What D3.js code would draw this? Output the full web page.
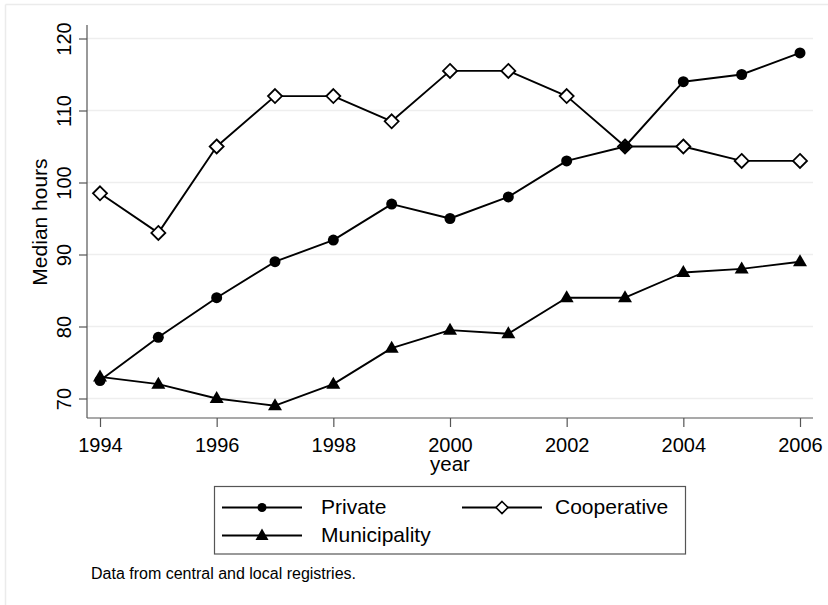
<!DOCTYPE html>
<html>
<head>
<meta charset="utf-8">
<script src="https://cdn.jsdelivr.net/npm/d3@7"></script>
<style>
  html, body { margin: 0; padding: 0; background: #fff; }
  svg { display: block; font-family: "Liberation Sans", Arial, sans-serif; }
</style>
</head>
<body>
<svg id="chart" width="828" height="605"></svg>
<script>
// Median hours by ownership type, 1994–2006
const years = [1994, 1995, 1996, 1997, 1998, 1999, 2000, 2001, 2002, 2003, 2004, 2005, 2006];
const privateHours      = [72.5, 78.5, 84, 89, 92, 97, 95, 98, 103, 105, 114, 115, 118];
const cooperativeHours  = [98.5, 93, 105, 112, 112, 108.5, 115.5, 115.5, 112, 105, 105, 103, 103];
const municipalHours    = [73, 72, 70, 69, 72, 77, 79.5, 79, 84, 84, 87.5, 88, 89];
const xTickValues = [1994, 1996, 1998, 2000, 2002, 2004, 2006];
const yTickValues = [70, 80, 90, 100, 110, 120];
const seriesNames = ["Private", "Cooperative", "Municipality"];
const seriesSymbols = ["circle", "diamond", "triangle"];
const noteText = "Data from central and local registries.";

const svg = d3.select("#chart");
const FONT = "'Liberation Sans', Arial, sans-serif";

// outer graph-region frame (left and top edges visible)
svg.append("line").attr("x1", 5.5).attr("x2", 5.5).attr("y1", 4.5).attr("y2", 605)
  .attr("stroke", "#ebebeb").attr("stroke-width", 1.5);
svg.append("line").attr("x1", 5.5).attr("x2", 828).attr("y1", 4.5).attr("y2", 4.5)
  .attr("stroke", "#ebebeb").attr("stroke-width", 1.5);

const plot = { left: 87, right: 813, top: 25, bottom: 418 };

const x = d3.scaleLinear().domain([1994, 2006]).range([100, 800]);
const y = d3.scaleLinear().domain([70, 120]).range([398.5, 38.5]);

// horizontal grid
svg.append("g").selectAll("line").data(yTickValues).join("line")
  .attr("x1", plot.left).attr("x2", plot.right)
  .attr("y1", d => y(d)).attr("y2", d => y(d))
  .attr("stroke", "#eeeeee").attr("stroke-width", 1.6);

// y axis
const yAxis = svg.append("g").attr("transform", `translate(${plot.left},0)`)
  .call(d3.axisLeft(y).tickValues(yTickValues).tickSize(8).tickPadding(0).tickFormat(d3.format("d")));
yAxis.select(".domain").attr("d", `M0,${plot.top}V${plot.bottom}`).attr("stroke", "#555").attr("stroke-width", 1.2);
yAxis.selectAll(".tick line").attr("stroke", "#555").attr("stroke-width", 1.2);
yAxis.selectAll(".tick text")
  .attr("x", null).attr("dy", null)
  .attr("transform", "translate(-16,0) rotate(-90)")
  .attr("text-anchor", "middle")
  .attr("font-size", 20).attr("fill", "#000")
  .attr("font-family", FONT);

// x axis
const xAxis = svg.append("g").attr("transform", `translate(0,${plot.bottom})`)
  .call(d3.axisBottom(x).tickValues(xTickValues).tickSize(9).tickPadding(0).tickFormat(d3.format("d")));
xAxis.select(".domain").attr("d", `M${plot.left},0H${plot.right}`).attr("stroke", "#555").attr("stroke-width", 1.2);
xAxis.selectAll(".tick line").attr("stroke", "#555").attr("stroke-width", 1.2);
xAxis.selectAll(".tick text")
  .attr("y", 34).attr("dy", null)
  .attr("font-size", 20).attr("fill", "#000")
  .attr("font-family", FONT);

// axis titles
svg.append("text").attr("transform", `translate(47,222) rotate(-90)`)
  .attr("text-anchor", "middle").attr("font-size", 21).text("Median hours");
svg.append("text").attr("x", 450).attr("y", 470.5)
  .attr("text-anchor", "middle").attr("font-size", 20.5).text("year");

// marker shapes
function drawMarker(g, kind, cx, cy) {
  if (kind === "circle") {
    g.append("circle").attr("cx", cx).attr("cy", cy).attr("r", 5.5).attr("fill", "#000");
  } else if (kind === "diamond") {
    const r = 7;
    g.append("path").attr("d", `M${cx},${cy - r}L${cx + r},${cy}L${cx},${cy + r}L${cx - r},${cy}Z`)
      .attr("fill", "#fff").attr("stroke", "#000").attr("stroke-width", 1.8);
  } else {
    const h = 12, w = 14;
    g.append("path").attr("d", `M${cx},${cy - h * 0.62}L${cx + w / 2},${cy + h * 0.38}L${cx - w / 2},${cy + h * 0.38}Z`)
      .attr("fill", "#000");
  }
}

const seriesValues = [privateHours, cooperativeHours, municipalHours];
const line = d3.line().x(d => x(d[0])).y(d => y(d[1]));

// Cooperative first so the solid Private markers sit on top where they coincide
[1, 0, 2].forEach(i => {
  const vals = seriesValues[i];
  const pts = years.map((yr, j) => [yr, vals[j]]);
  const g = svg.append("g");
  g.append("path").attr("d", line(pts)).attr("fill", "none")
    .attr("stroke", "#000").attr("stroke-width", 1.9).attr("stroke-linejoin", "round");
  pts.forEach(p => drawMarker(g, seriesSymbols[i], x(p[0]), y(p[1])));
});

// legend
const legend = svg.append("g");
legend.append("rect").attr("x", 214.5).attr("y", 486.5).attr("width", 471).attr("height", 67.5)
  .attr("fill", "#fff").attr("stroke", "#555").attr("stroke-width", 1.2);
const legendPos = [
  { lx: 222, ly: 507.5, tx: 321 },
  { lx: 462, ly: 507.5, tx: 555 },
  { lx: 222, ly: 535.5, tx: 321 }
];
seriesNames.forEach((name, i) => {
  const p = legendPos[i];
  legend.append("line").attr("x1", p.lx).attr("x2", p.lx + 80).attr("y1", p.ly).attr("y2", p.ly)
    .attr("stroke", "#000").attr("stroke-width", 1.9);
  if (seriesSymbols[i] === "circle") {
    legend.append("circle").attr("cx", p.lx + 40).attr("cy", p.ly).attr("r", 4.5).attr("fill", "#000");
  } else if (seriesSymbols[i] === "diamond") {
    const r = 6;
    legend.append("path").attr("d", `M${p.lx + 40},${p.ly - r}L${p.lx + 40 + r},${p.ly}L${p.lx + 40},${p.ly + r}L${p.lx + 40 - r},${p.ly}Z`)
      .attr("fill", "#fff").attr("stroke", "#000").attr("stroke-width", 1.6);
  } else {
    legend.append("path").attr("d", `M${p.lx + 40},${p.ly - 7}L${p.lx + 46.5},${p.ly + 4.5}L${p.lx + 33.5},${p.ly + 4.5}Z`)
      .attr("fill", "#000");
  }
  legend.append("text").attr("x", p.tx).attr("y", p.ly + 6.5).attr("font-size", 21).text(name);
});

// note
svg.append("text").attr("x", 91).attr("y", 578.5).attr("font-size", 16).text(noteText);
</script>
</body>
</html>
